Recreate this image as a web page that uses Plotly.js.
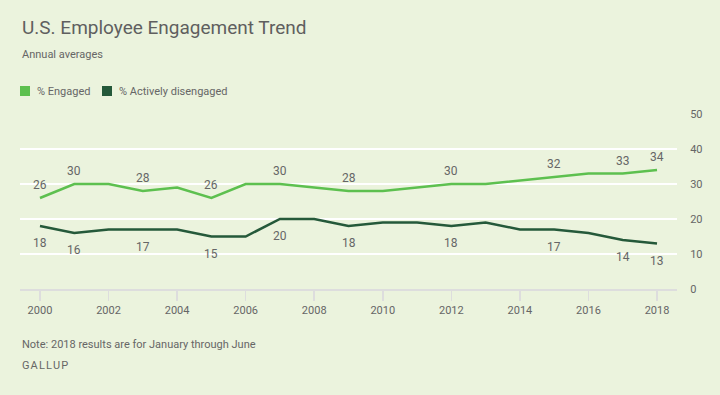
<!DOCTYPE html>
<html>
<head>
<meta charset="utf-8">
<script src="https://cdn.plot.ly/plotly-3.0.1.min.js"></script>
<style>html,body{margin:0;padding:0;background:#EBF3DD;}#chart{width:720px;height:395px;}</style>
</head>
<body>
<div id="chart"></div>
<script>
const years = [2000,2001,2002,2003,2004,2005,2006,2007,2008,2009,2010,2011,2012,2013,2014,2015,2016,2017,2018];
const engaged = [26,30,30,28,29,26,30,30,29,28,28,29,30,30,31,32,33,33,34];
const disengaged = [18,16,17,17,17,15,15,20,20,18,19,19,18,19,17,17,16,14,13];
const labeledYears = [2000,2001,2003,2005,2007,2009,2012,2015,2017,2018];
const xTicks = [2000,2002,2004,2006,2008,2010,2012,2014,2016,2018];
const yTicks = [0,10,20,30,40,50];

const FONT = 'Roboto, "Open Sans", sans-serif';
const GREY = '#666666';
const C_ENG = '#5DC04F';
const C_DIS = '#25593A';

const traces = [
  {x: years, y: engaged, mode: 'lines', line: {color: C_ENG, width: 2.5}, hoverinfo: 'skip'},
  {x: years, y: disengaged, mode: 'lines', line: {color: C_DIS, width: 2.5}, hoverinfo: 'skip'}
];

const PH = 175, PW = 657;
function py(px){ return (289 - px) / PH; }

const annotations = [];
years.forEach((yr, i) => {
  if (!labeledYears.includes(yr)) return;
  annotations.push({x: yr, y: engaged[i], xref: 'x', yref: 'y', text: String(engaged[i]), showarrow: false,
    yanchor: 'middle', xanchor: 'center', yshift: 13, font: {family: FONT, size: 12, color: GREY}});
  annotations.push({x: yr, y: disengaged[i], xref: 'x', yref: 'y', text: String(disengaged[i]), showarrow: false,
    yanchor: 'middle', xanchor: 'center', yshift: -17, font: {family: FONT, size: 12, color: GREY}});
});
annotations.push(
  {text: 'U.S. Employee Engagement Trend', xref: 'paper', yref: 'paper', x: 0, y: py(27), xanchor: 'left', yanchor: 'middle', showarrow: false,
   font: {family: FONT, size: 19, color: '#5F5F5F'}},
  {text: 'Annual averages', xref: 'paper', yref: 'paper', x: 0, y: py(55), xanchor: 'left', yanchor: 'middle', showarrow: false,
   font: {family: FONT, size: 11, color: GREY}},
  {text: 'Note: 2018 results are for January through June', xref: 'paper', yref: 'paper', x: 0, y: py(344), xanchor: 'left', yanchor: 'middle', showarrow: false,
   font: {family: FONT, size: 11, color: GREY}},
  {text: 'G\u200AA\u200AL\u200AL\u200AU\u200AP', xref: 'paper', yref: 'paper', x: 0, y: py(365), xanchor: 'left', yanchor: 'middle', showarrow: false,
   font: {family: FONT, size: 11, color: GREY}},
  {text: '% Engaged', xref: 'paper', yref: 'paper', x: 15/PW, y: py(91), xanchor: 'left', yanchor: 'middle', showarrow: false,
   font: {family: FONT, size: 11, color: GREY}},
  {text: '% Actively disengaged', xref: 'paper', yref: 'paper', x: 97/PW, y: py(91), xanchor: 'left', yanchor: 'middle', showarrow: false,
   font: {family: FONT, size: 11, color: GREY}}
);

const layout = {
  width: 720, height: 395,
  paper_bgcolor: '#EBF3DD', plot_bgcolor: '#EBF3DD',
  margin: {l: 20, r: 43, t: 114, b: 106},
  showlegend: false,
  font: {family: FONT, color: GREY},
  xaxis: {range: [1999.417, 2018.583], tickvals: xTicks, ticktext: xTicks.map(String),
    showgrid: false, zeroline: false, showline: true, linecolor: '#DDDDDD', linewidth: 2,
    ticks: 'outside', ticklen: 10, tickcolor: '#DDDDDD', tickwidth: 1.5,
    tickfont: {family: FONT, size: 11, color: GREY}},
  yaxis: {range: [0, 50], side: 'right', tickvals: yTicks, ticktext: yTicks.map(String),
    showgrid: true, gridcolor: '#FFFFFF', gridwidth: 2, zeroline: false, showline: false,
    ticks: 'outside', ticklen: 10, tickcolor: 'rgba(0,0,0,0)',
    tickfont: {family: FONT, size: 11, color: GREY}},
  shapes: [
    {type: 'rect', xref: 'paper', yref: 'paper', x0: 0, x1: 10/PW, y0: py(96), y1: py(86), fillcolor: C_ENG, line: {width: 0}},
    {type: 'rect', xref: 'paper', yref: 'paper', x0: 82/PW, x1: 92/PW, y0: py(96), y1: py(86), fillcolor: C_DIS, line: {width: 0}}
  ],
  annotations: annotations
};

Plotly.newPlot('chart', traces, layout, {displayModeBar: false, staticPlot: true});
</script>
</body>
</html>
